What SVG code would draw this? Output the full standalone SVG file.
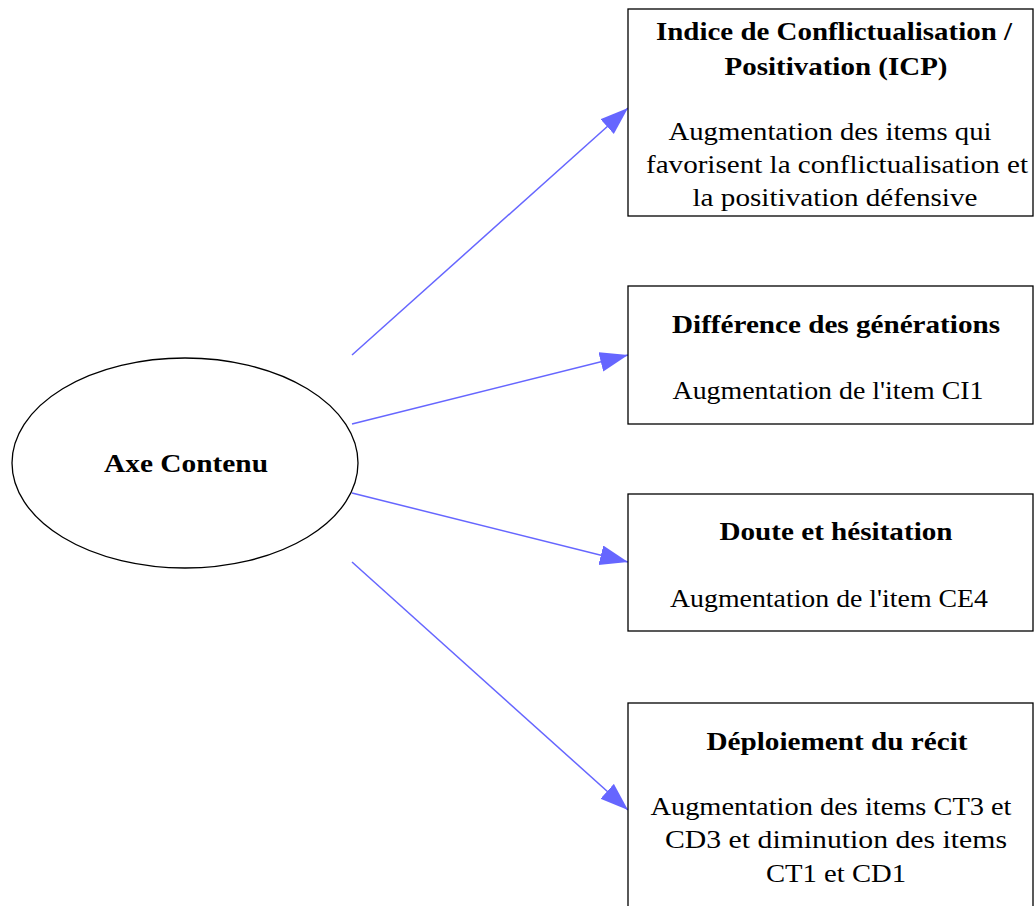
<svg xmlns="http://www.w3.org/2000/svg" width="1035" height="906" viewBox="0 0 1035 906">
<style>
.box{fill:#fff;stroke:#000;stroke-width:1.3}
.t{font-family:"Liberation Serif","Times New Roman",serif;font-size:26px;fill:#000;text-anchor:middle}
.b{font-weight:bold}
.e{stroke:#6666ff;stroke-width:1.5;fill:none}
</style>
<defs>
<marker id="ah" markerUnits="userSpaceOnUse" markerWidth="30" markerHeight="22" refX="28" refY="10" orient="auto">
<path d="M0,0 L28,10 L0,20 z" fill="#6666ff"/>
</marker>
</defs>
<rect width="1035" height="906" fill="#fff"/>
<g id="edges">
<line class="e" x1="352" y1="355" x2="628" y2="108" marker-end="url(#ah)"/>
<line class="e" x1="352" y1="424" x2="628" y2="355" marker-end="url(#ah)"/>
<line class="e" x1="352" y1="493" x2="628" y2="562" marker-end="url(#ah)"/>
<line class="e" x1="352" y1="562" x2="628" y2="810" marker-end="url(#ah)"/>
</g>
<g id="axe">
<ellipse class="box" cx="185" cy="463" rx="173" ry="105"/>
<text class="t b" x="186" y="472" textLength="164" lengthAdjust="spacingAndGlyphs">Axe Contenu</text>
</g>
<g id="icp">
<rect class="box" x="628" y="9" width="405" height="207"/>
<text class="t b" x="834" y="40" textLength="356" lengthAdjust="spacingAndGlyphs">Indice de Conflictualisation /</text>
<text class="t b" x="836" y="75" textLength="223" lengthAdjust="spacingAndGlyphs">Positivation (ICP)</text>
<text class="t" x="830" y="140" textLength="323" lengthAdjust="spacingAndGlyphs">Augmentation des items qui</text>
<text class="t" x="837" y="173" textLength="382" lengthAdjust="spacingAndGlyphs">favorisent la conflictualisation et</text>
<text class="t" x="835" y="206" textLength="285" lengthAdjust="spacingAndGlyphs">la positivation défensive</text>
</g>
<g id="gen">
<rect class="box" x="628" y="286" width="405" height="138"/>
<text class="t b" x="836" y="333" textLength="328" lengthAdjust="spacingAndGlyphs">Différence des générations</text>
<text class="t" x="828" y="399" textLength="311" lengthAdjust="spacingAndGlyphs">Augmentation de l'item CI1</text>
</g>
<g id="doute">
<rect class="box" x="628" y="494" width="405" height="137"/>
<text class="t b" x="836" y="540" textLength="233" lengthAdjust="spacingAndGlyphs">Doute et hésitation</text>
<text class="t" x="829" y="607" textLength="318" lengthAdjust="spacingAndGlyphs">Augmentation de l'item CE4</text>
</g>
<g id="recit">
<rect class="box" x="628" y="703" width="405" height="210"/>
<text class="t b" x="837" y="750" textLength="261" lengthAdjust="spacingAndGlyphs">Déploiement du récit</text>
<text class="t" x="831" y="815" textLength="361" lengthAdjust="spacingAndGlyphs">Augmentation des items CT3 et</text>
<text class="t" x="836" y="848" textLength="342" lengthAdjust="spacingAndGlyphs">CD3 et diminution des items</text>
<text class="t" x="836" y="882" textLength="140" lengthAdjust="spacingAndGlyphs">CT1 et CD1</text>
</g>
</svg>
